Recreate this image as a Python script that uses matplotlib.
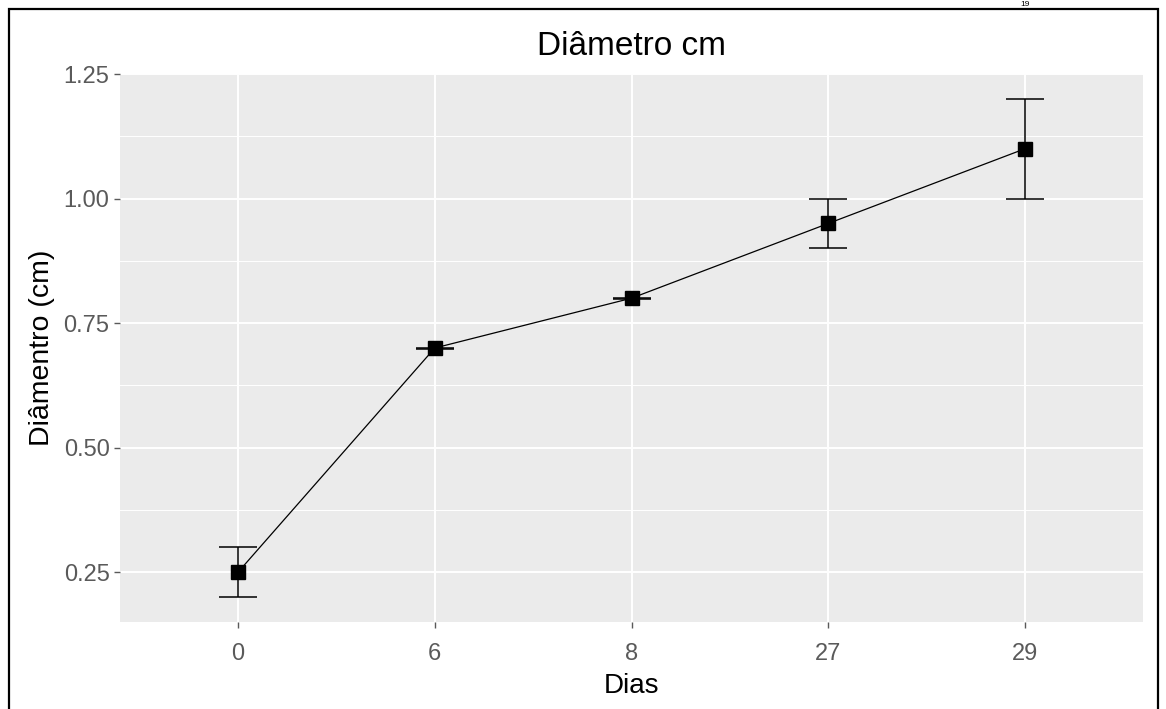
import matplotlib.pyplot as plt
from matplotlib.patches import Rectangle
from matplotlib.ticker import MultipleLocator

plt.rcParams['font.family'] = ['Liberation Sans', 'DejaVu Sans']

dias = ["0", "6", "8", "27", "29"]
diametro = [0.25, 0.70, 0.80, 0.95, 1.10]
erro = [0.05, 0.001, 0.001, 0.05, 0.10]

fig = plt.figure(figsize=(11.66, 7.09), dpi=100)
ax = fig.add_axes([0.1029, 0.1227, 0.8774, 0.7729])

x = list(range(len(dias)))

# fundo cinza estilo ggplot
ax.set_facecolor("#EBEBEB")
ax.yaxis.set_major_locator(MultipleLocator(0.25))
ax.yaxis.set_minor_locator(MultipleLocator(0.125))
ax.grid(which="major", color="white", linewidth=1.4)
ax.grid(which="minor", axis="y", color="white", linewidth=0.7)
ax.set_axisbelow(True)
for s in ax.spines.values():
    s.set_visible(False)

ax.plot(x, diametro, color="black", linewidth=0.9, zorder=3)
ax.errorbar(x, diametro, yerr=erro, fmt="none", ecolor="black",
            elinewidth=1.1, capsize=14, capthick=1.1, zorder=3)
ax.plot(x, diametro, "s", color="black", markersize=10, zorder=4)

ax.set_xticks(x)
ax.set_xticklabels(dias)
ax.set_xlim(-0.6, 4.6)
ax.set_ylim(0.15, 1.25)
ax.set_yticks([0.25, 0.50, 0.75, 1.00, 1.25])
ax.set_yticklabels(["0.25", "0.50", "0.75", "1.00", "1.25"])
ax.tick_params(axis="both", which="major", labelsize=17, labelcolor="#5A5A5A",
               color="#5A5A5A", length=4, width=1)
ax.tick_params(axis="x", which="major", pad=11)
ax.tick_params(axis="y", which="minor", length=0)

ax.set_title("Diâmetro cm", fontsize=24, pad=14)
ax.set_xlabel("Dias", fontsize=20, labelpad=6)
ax.set_ylabel("Diâmentro (cm)", fontsize=20.5, labelpad=6)

# moldura da figura
fig.patches.append(Rectangle((9 / 1166, -0.02), 1149 / 1166, 1.02 - 9 / 709,
                             transform=fig.transFigure, fill=False,
                             edgecolor="black", linewidth=1.6))
fig.text(1025 / 1166, 1 - 1 / 709, "19", fontsize=6, ha="center", va="top")

fig.savefig("out.png", dpi=100)
